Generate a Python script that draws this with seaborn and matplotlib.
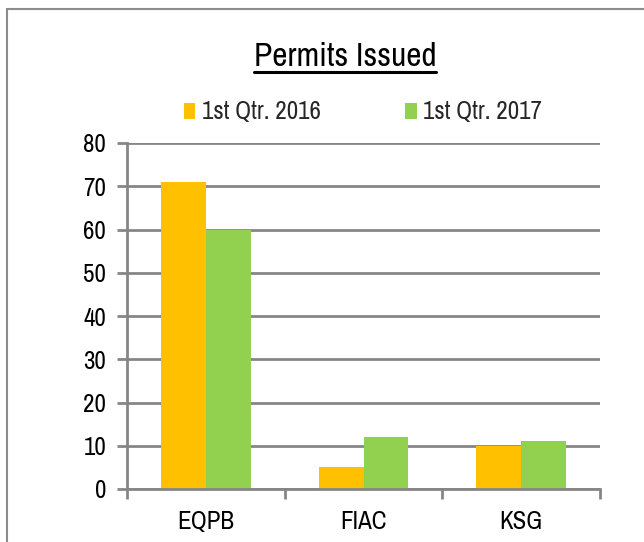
import matplotlib
matplotlib.use("Agg")
import matplotlib.pyplot as plt
import seaborn as sns
import pandas as pd
from matplotlib import font_manager
from matplotlib.patches import Patch, Rectangle
from matplotlib.lines import Line2D

categories = ["EQPB", "FIAC", "KSG"]
series_names = ["1st Qtr. 2016", "1st Qtr. 2017"]
values_2016 = [71, 5, 10]
values_2017 = [60, 12, 11]
colors = ["#FFC000", "#92D050"]
title = "Permits Issued"
yticks = [0, 10, 20, 30, 40, 50, 60, 70, 80]

sns.set_theme(style="white")
names = {f.name for f in font_manager.fontManager.ttflist}
fam = [f for f in ["Liberation Sans Narrow", "Archivo Narrow", "Arial Narrow", "Roboto Condensed"] if f in names]
plt.rcParams["font.family"] = fam + ["DejaVu Sans"]

df = pd.DataFrame({
    "cat": categories * 2,
    "series": [series_names[0]] * 3 + [series_names[1]] * 3,
    "val": values_2016 + values_2017,
})

W, H = 644, 542
fig = plt.figure(figsize=(W / 100, H / 100), dpi=100)
fig.patch.set_facecolor("white")
fig.add_artist(Rectangle((7 / W, -0.1), 1.2, 1 - 9 / H + 0.1, transform=fig.transFigure,
                         fill=False, edgecolor="#8C8C8C", linewidth=1.5))

ax = fig.add_axes([127 / W, (H - 489) / H, (600 - 127) / W, (489 - 143) / H])
sns.barplot(data=df, x="cat", y="val", hue="series", palette=colors, width=0.57,
            gap=0, saturation=1, ax=ax, linewidth=0, edgecolor="none", zorder=3)
ax.get_legend().remove()

gray = "#868686"
ax.set_ylim(0, 80)
ax.set_xlim(-0.5, 2.5)
ax.set_yticks(yticks)
ax.yaxis.grid(True, color=gray, linewidth=2, zorder=0)
ax.set_axisbelow(True)
for s in ["top", "right"]:
    ax.spines[s].set_visible(False)
for s in ["left", "bottom"]:
    ax.spines[s].set_color(gray)
    ax.spines[s].set_linewidth(2)
    ax.spines[s].set_zorder(4)
ax.set_xlabel("")
ax.set_ylabel("")
ax.tick_params(axis="y", which="major", length=7, width=2, color=gray, left=True,
               labelsize=18, pad=8, labelcolor="black")
ax.tick_params(axis="x", which="major", length=0, labelsize=18, pad=15, labelcolor="black")
ax.set_xticks([-0.5, 0.5, 1.5, 2.5], minor=True)
ax.tick_params(axis="x", which="minor", length=7, width=2, color=gray, bottom=True)

t = fig.text(345 / W, 1 - 57 / H, title, ha="center", va="center", fontsize=24,
             color="black")

handles = [Patch(facecolor=c, edgecolor="none") for c in colors]
fig.legend(handles, series_names, loc="center", bbox_to_anchor=(363 / W, 1 - 112 / H),
           ncol=2, frameon=False, fontsize=18, handlelength=0.45, handleheight=0.6,
           handletextpad=0.25, columnspacing=3.4)

fig.canvas.draw()
bb = t.get_window_extent(fig.canvas.get_renderer())
y_ul = 1 - 72 / H
fig.add_artist(Line2D([bb.x0 / W, bb.x1 / W], [y_ul, y_ul], transform=fig.transFigure,
                      color="black", linewidth=2.2))

fig.savefig("out.png", dpi=100, facecolor="white")
